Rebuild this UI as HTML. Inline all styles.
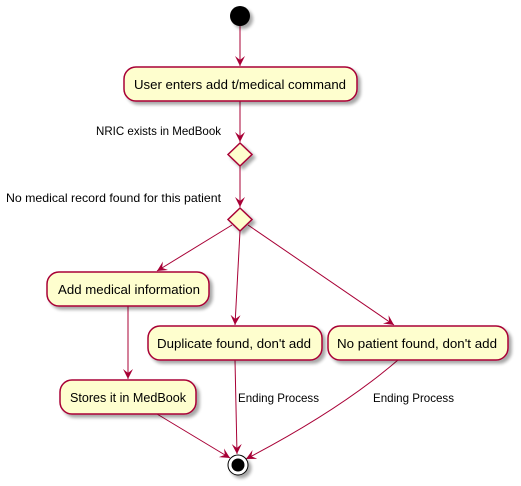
<!DOCTYPE html>
<html><head><style>body{margin:0;background:#fff}svg{display:block}</style></head><body>
<svg width="521" height="486" viewBox="0 0 521 486" xmlns="http://www.w3.org/2000/svg" font-family="Liberation Sans, sans-serif">
<defs>
<filter id="sh" x="-20%" y="-20%" width="150%" height="160%"><feGaussianBlur in="SourceAlpha" stdDeviation="1.5"/><feOffset dx="3" dy="3"/><feComponentTransfer><feFuncA type="linear" slope="0.35"/></feComponentTransfer><feMerge><feMergeNode/><feMergeNode in="SourceGraphic"/></feMerge></filter>
<marker id="ar" markerWidth="12" markerHeight="12" refX="10" refY="5" orient="auto" markerUnits="userSpaceOnUse"><path d="M0,0 L10,5 L0,10 L4,5 Z" fill="#A80036"/></marker>
</defs>
<g stroke="#A80036" stroke-width="1" fill="none">
<line x1="240" y1="26" x2="240" y2="66" marker-end="url(#ar)"/>
<line x1="240" y1="101" x2="240" y2="142" marker-end="url(#ar)"/>
<line x1="240" y1="166" x2="240" y2="207" marker-end="url(#ar)"/>
<line x1="232" y1="225" x2="157" y2="271" marker-end="url(#ar)"/>
<line x1="240" y1="231" x2="235" y2="325" marker-end="url(#ar)"/>
<line x1="248" y1="225" x2="394" y2="325" marker-end="url(#ar)"/>
<line x1="128" y1="306" x2="128" y2="379" marker-end="url(#ar)"/>
<line x1="157" y1="414" x2="230" y2="458" marker-end="url(#ar)"/>
<line x1="235" y1="360" x2="237" y2="454" marker-end="url(#ar)"/>
<path d="M398,360 Q340,410 246,459" marker-end="url(#ar)"/>
</g>
<g filter="url(#sh)">
<circle cx="240" cy="16" r="10" fill="#000"/>
<g fill="#FEFECE" stroke="#A80036" stroke-width="1.5">
<rect x="124" y="67" width="233" height="34" rx="12"/>
<polygon points="240,143 252,154.5 240,166 228,154.5"/>
<polygon points="240,208 252,219.5 240,231 228,219.5"/>
<rect x="47" y="272" width="162" height="34" rx="12"/>
<rect x="148" y="326" width="174" height="34" rx="12"/>
<rect x="328" y="326" width="180" height="34" rx="12"/>
<rect x="60" y="380" width="136" height="34" rx="12"/>
</g>
<circle cx="238" cy="465" r="10" fill="#fff" stroke="#000" stroke-width="1"/>
<circle cx="238" cy="465" r="6.5" fill="#000"/>
</g>
<g font-size="13" fill="#000" lengthAdjust="spacingAndGlyphs">
<text x="134" y="89" textLength="212" lengthAdjust="spacingAndGlyphs">User enters add t/medical command</text>
<text x="58" y="294" textLength="142" lengthAdjust="spacingAndGlyphs">Add medical information</text>
<text x="157" y="348" textLength="154" lengthAdjust="spacingAndGlyphs">Duplicate found, don't add</text>
<text x="337" y="348" textLength="160" lengthAdjust="spacingAndGlyphs">No patient found, don't add</text>
<text x="70" y="402" textLength="116" lengthAdjust="spacingAndGlyphs">Stores it in MedBook</text>
</g>
<g font-size="12" fill="#000">
<text x="96" y="135" textLength="125" lengthAdjust="spacingAndGlyphs">NRIC exists in MedBook</text>
<text x="6" y="202" textLength="215" lengthAdjust="spacingAndGlyphs">No medical record found for this patient</text>
<text x="238" y="402" textLength="81" lengthAdjust="spacingAndGlyphs">Ending Process</text>
<text x="373" y="402" textLength="81" lengthAdjust="spacingAndGlyphs">Ending Process</text>
</g>
</svg>
</body></html>
